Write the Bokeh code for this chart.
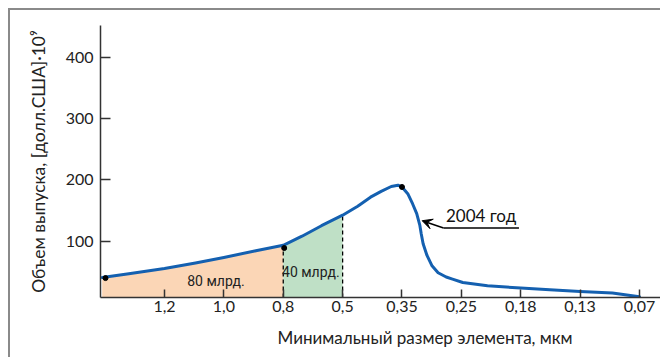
from bokeh.plotting import figure
from bokeh.models import FixedTicker, Label, Arrow, VeeHead, Range1d, Title
from bokeh.embed import file_html
from bokeh.resources import INLINE

# ---- data ----
size_labels = ["1,2", "1,0", "0,8", "0,5", "0,35", "0,25", "0,18", "0,13", "0,07"]
size_pos = [1, 2, 3, 4, 5, 6, 7, 8, 9]
y_ticks = [100, 200, 300, 400]

curve_x = [-0.049, 0.399, 1.000, 1.522, 2.000, 2.539, 3.000, 3.316, 3.644, 4.000,
           4.254, 4.470, 4.649, 4.819, 4.932, 5.000, 5.097, 5.178, 5.248, 5.301,
           5.324, 5.356, 5.421, 5.502, 5.608, 5.744, 5.851, 6.024, 6.440, 7.000,
           7.490, 8.000, 8.544, 9.000]
curve_y = [40.3, 46.5, 55.0, 63.9, 73.1, 84.1, 93.0, 107.9, 125.1, 142.3,
           157.0, 171.8, 181.3, 189.3, 191.5, 188.5, 177.5, 161.1, 144.8, 125.6,
           112.0, 95.6, 76.4, 60.0, 48.0, 41.0, 37.7, 32.1, 26.7, 23.0,
           20.2, 17.4, 14.8, 8.7]
dot_x = [0.006, 3.016, 5.000]
dot_y = [39.3, 88.5, 188.5]

Y0 = 7.5
FONT = "Lato"

p = figure(width=652, height=349, output_backend="svg", toolbar_location=None,
           x_range=Range1d(-0.078, 9.354), y_range=Range1d(Y0, 453),
           min_border_left=90, min_border_right=2, min_border_top=15, min_border_bottom=62)
p.styles = {"margin-left": "8px", "margin-top": "8px",
            "border-top": "2px solid #8a8a8a", "border-left": "2px solid #8a8a8a"}
p.outline_line_color = None
p.grid.grid_line_color = None
p.background_fill_color = "white"
p.border_fill_color = "white"

# fills
p.varea(x=curve_x[:7], y1=[Y0] * 7, y2=curve_y[:7], fill_color="#fbd6b6")
p.varea(x=curve_x[6:10], y1=[Y0] * 4, y2=curve_y[6:10], fill_color="#bfe0c6")

# dashed boundaries
p.segment(x0=[curve_x[6], curve_x[9]], y0=[Y0, Y0], x1=[curve_x[6], curve_x[9]],
          y1=[curve_y[6], curve_y[9]], line_color="black", line_width=1.3, line_dash="4 3")

# curve
p.line(curve_x, curve_y, line_color="#1460b0", line_width=3, line_join="round", line_cap="round")
p.scatter(dot_x, dot_y, size=5, color="black")

# region labels
p.add_layout(Label(x=1.867, y=35, text="80 млрд.", text_align="center", text_baseline="middle",
                   text_font="Roboto", text_font_size="14px", text_color="#222"))
p.add_layout(Label(x=3.464, y=48.5, text="40 млрд.", text_align="center", text_baseline="middle",
                   text_font="Roboto", text_font_size="14px", text_color="#222"))

# 2004 annotation
p.add_layout(Arrow(end=VeeHead(size=10, fill_color="black", line_color="black"),
                   x_start=5.70, y_start=121.3, x_end=5.34, y_end=133.3,
                   line_color="black", line_width=1.5))
p.segment(x0=[5.70], y0=[121.3], x1=[6.97], y1=[121.3], line_color="black", line_width=1.5)
p.add_layout(Label(x=5.74, y=124.6, text="2004 год", text_align="left", text_baseline="bottom",
                   text_font=FONT, text_font_size="17px", text_color="#111"))

# x title (offset to the right like the reference)
p.add_layout(Title(text="Минимальный размер элемента, мкм", align="left", offset=177,
                   standoff=20, text_font=FONT, text_font_size="17px",
                   text_font_style="normal", text_color="#222"), "below")

# axes
for ax in (p.xaxis[0], p.yaxis[0]):
    ax.axis_line_color = "#333"
    ax.axis_line_width = 1.5
    ax.major_tick_line_color = "#333"
    ax.major_tick_line_width = 1.5
    ax.minor_tick_line_color = None
    ax.major_tick_out = 0
    ax.major_label_text_font = FONT
    ax.major_label_text_font_size = "16px"
    ax.major_label_text_color = "#222"

p.xaxis.ticker = FixedTicker(ticks=size_pos)
p.xaxis.major_label_overrides = {pos: lab for pos, lab in zip(size_pos, size_labels)}
p.xaxis.major_tick_in = 8
p.xaxis.major_label_standoff = 3

p.yaxis.ticker = FixedTicker(ticks=y_ticks)
p.yaxis.major_tick_in = 10
p.yaxis.major_label_standoff = 7
p.yaxis.axis_label = "Объем выпуска, [долл.США]·10⁹"
p.yaxis.axis_label_text_font = FONT
p.yaxis.axis_label_text_font_size = "17.5px"
p.yaxis.axis_label_text_font_style = "normal"
p.yaxis.axis_label_text_color = "#222"
p.yaxis.axis_label_standoff = 14

open("out.html", "w").write(file_html(p, INLINE))
